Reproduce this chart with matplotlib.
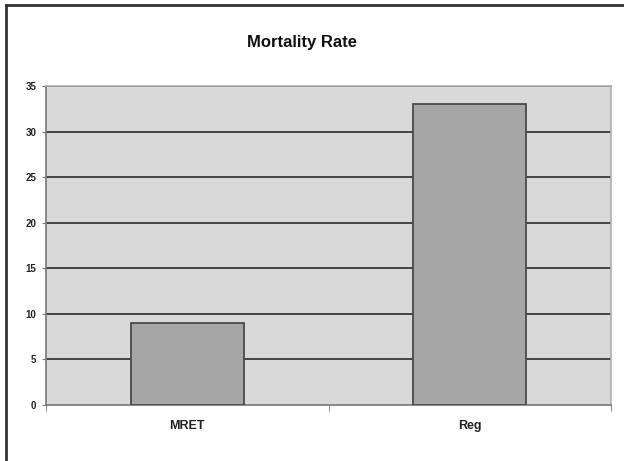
import matplotlib.pyplot as plt
import numpy as np
from matplotlib.lines import Line2D

categories = ["MRET", "Reg"]
mortality = [9, 33]
yticks = [0, 5, 10, 15, 20, 25, 30, 35]

plt.rcParams['font.family'] = ['Liberation Sans', 'DejaVu Sans']

fig = plt.figure(figsize=(6.24, 4.61), dpi=100)
ax = fig.add_axes([46 / 624, 1 - 405 / 461, (611 - 46) / 624, (405 - 86) / 461])

x = np.arange(len(categories))
ax.set_facecolor('#d9d9d9')
ax.bar(x, mortality, width=0.4, color='#a6a6a6', edgecolor='#4a4a4a', linewidth=1.3, zorder=3)

ax.set_xlim(-0.5, len(categories) - 0.5)
ax.set_ylim(0, 35)
ax.set_yticks(yticks)
ax.set_yticklabels([str(t) for t in yticks], fontsize=7, fontweight='bold', color='#222222')
ax.set_xticks(x)
ax.set_xticklabels(categories, fontsize=9, fontweight='bold', color='#222222')
ax.tick_params(axis='x', length=0, pad=11)
ax.set_xticks(np.arange(-0.5, len(categories)), minor=True)
ax.tick_params(axis='x', which='minor', length=4, color='#777777')
ax.tick_params(axis='y', length=3, color='#777777', pad=4)

for t in yticks[1:]:
    ax.axhline(t, color='#2a2a2a', linewidth=1.2, zorder=1)

for side in ['top', 'right']:
    ax.spines[side].set_color('#b0b0b0')
    ax.spines[side].set_linewidth(1.2)
for side in ['left', 'bottom']:
    ax.spines[side].set_color('#777777')
    ax.spines[side].set_linewidth(1.2)

fig.text(302 / 624, 1 - 43 / 461, "Mortality Rate", ha='center', va='center',
         fontsize=12, fontweight='bold', color='#111111')

# outer frame (only top and left visible)
fig.add_artist(Line2D([6 / 624, 1], [1 - 5 / 461, 1 - 5 / 461], transform=fig.transFigure,
                      color='#333333', linewidth=2))
fig.add_artist(Line2D([6 / 624, 6 / 624], [0, 1 - 5 / 461], transform=fig.transFigure,
                      color='#333333', linewidth=2))

fig.savefig('out.png', dpi=100)
